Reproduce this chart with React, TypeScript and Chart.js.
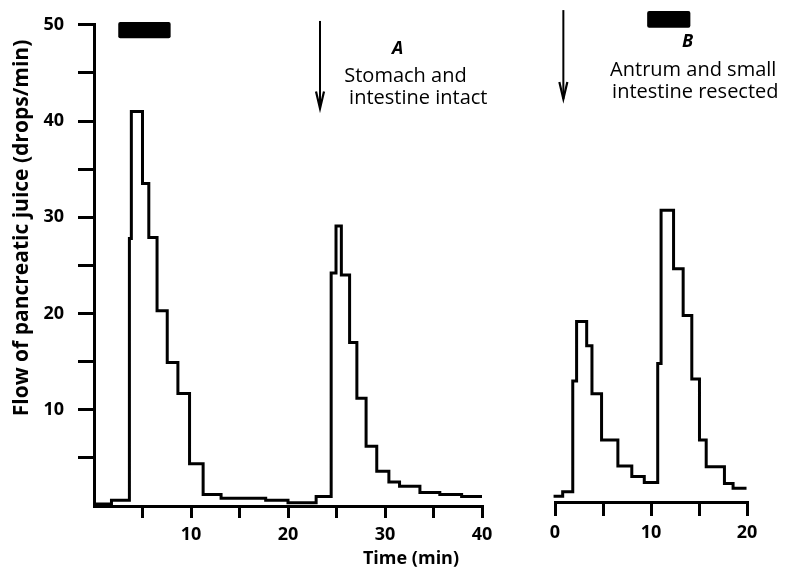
import React, { useEffect, useRef } from 'react';
import { Chart, registerables } from 'chart.js';

Chart.register(...registerables);

// ---- Data (time in min, flow in drops/min) ----
// Panel A: step edges (start of each interval) and values
const leftEdges = [0, 1.8, 3.65, 3.85, 5.0, 5.65, 6.5, 7.55, 8.65, 9.85, 11.25, 13.1, 17.7, 20.0, 22.9, 24.45, 24.95, 25.5, 26.35, 27.1, 28.05, 29.15, 30.4, 31.5, 33.6, 35.65, 37.9];
const leftValues = [0.2, 0.6, 27.8, 41, 33.5, 27.9, 20.3, 14.9, 11.7, 4.4, 1.2, 0.8, 0.6, 0.35, 1.0, 24.2, 29.1, 24.0, 17.0, 11.2, 6.2, 3.6, 2.5, 2.05, 1.4, 1.2, 1.0];
const leftEnd = 40;

// Panel B
const rightEdges = [-0.15, 0.8, 1.85, 2.25, 3.3, 3.85, 4.85, 6.55, 8.0, 9.3, 10.7, 11.05, 12.35, 13.35, 14.25, 15.05, 15.75, 17.65, 18.55];
const rightValues = [0.6, 1.05, 12.4, 18.5, 16.0, 11.1, 6.35, 3.7, 2.6, 2.0, 14.2, 29.9, 23.9, 19.1, 12.6, 6.35, 3.6, 1.9, 1.4];
const rightEnd = 19.95;

// Axis ticks
const yTickLabels = [10, 20, 30, 40, 50];
const leftXTickLabels = [10, 20, 30, 40];
const rightXTickLabels = [0, 10, 20];

// Annotations (data units)
const leftStimulus = [2.5, 7.9];
const rightStimulus = [9.6, 14.1];
const stimulusY = [48.6, 50.3];
const leftArrowX = 23.3;
const rightArrowX = 0.87;
const arrowY = [41.3, 50.4];
const labelA = ['A', 'Stomach and', 'intestine intact'];
const labelB = ['B', 'Antrum and small', 'intestine resected'];

const FONT = '"Open Sans", "DejaVu Sans", sans-serif';

function toPoints(edges: number[], values: number[], end: number) {
  const pts = edges.map((e, i) => ({ x: e, y: values[i] }));
  pts.push({ x: end, y: values[values.length - 1] });
  return pts;
}

type AnnCfg = {
  bar: number[];
  arrowX: number;
  letter: string;
  letterX: number;
  letterY: number;
  lines: string[];
  lineX: number[];
  lineY: number[];
  axisTitles?: boolean;
};

function makeAnnotator(cfg: AnnCfg) {
  return {
    id: 'annotator',
    afterDraw(chart: any) {
      const ctx = chart.ctx as CanvasRenderingContext2D;
      const xs = chart.scales.x;
      const ys = chart.scales.y;
      ctx.save();
      // stimulus bar
      const bx1 = xs.getPixelForValue(cfg.bar[0]);
      const bx2 = xs.getPixelForValue(cfg.bar[1]);
      const by1 = ys.getPixelForValue(stimulusY[1]);
      const by2 = ys.getPixelForValue(stimulusY[0]);
      ctx.fillStyle = '#000';
      ctx.beginPath();
      (ctx as any).roundRect(bx1, by1, bx2 - bx1, by2 - by1, 2);
      ctx.fill();
      // arrow
      const ax = xs.getPixelForValue(cfg.arrowX);
      const ayTop = ys.getPixelForValue(arrowY[1]);
      const ayTip = ys.getPixelForValue(arrowY[0]);
      ctx.strokeStyle = '#000';
      ctx.lineWidth = 2;
      ctx.beginPath();
      ctx.moveTo(ax, ayTop);
      ctx.lineTo(ax, ayTip);
      ctx.stroke();
      ctx.lineWidth = 2.2;
      ctx.beginPath();
      ctx.moveTo(ax - 4, ayTip - 17);
      ctx.lineTo(ax, ayTip);
      ctx.lineTo(ax + 4, ayTip - 17);
      ctx.stroke();
      // letter
      ctx.fillStyle = '#000';
      ctx.textBaseline = 'alphabetic';
      ctx.textAlign = 'center';
      ctx.font = `italic bold 18px ${FONT}`;
      ctx.fillText(cfg.letter, xs.getPixelForValue(cfg.letterX), ys.getPixelForValue(cfg.letterY));
      ctx.textAlign = 'left';
      ctx.font = `20px ${FONT}`;
      cfg.lines.forEach((t, i) => {
        ctx.fillText(t, xs.getPixelForValue(cfg.lineX[i]), ys.getPixelForValue(cfg.lineY[i]));
      });
      if (cfg.axisTitles) {
        // y-axis title
        ctx.save();
        ctx.translate(22, 228);
        ctx.rotate(-Math.PI / 2);
        ctx.textAlign = 'center';
        ctx.textBaseline = 'middle';
        ctx.font = `bold 21px ${FONT}`;
        ctx.fillText('Flow of pancreatic juice (drops/min)', 0, 0);
        ctx.restore();
        // x-axis title
        ctx.textAlign = 'center';
        ctx.textBaseline = 'middle';
        ctx.font = `bold 18px ${FONT}`;
        ctx.fillText('Time (min)', 411, 559);
      }
      ctx.restore();
    },
  };
}

function baseDataset(points: { x: number; y: number }[]) {
  return {
    data: points,
    borderColor: '#000',
    borderWidth: 3,
    pointRadius: 0,
    pointHoverRadius: 0,
    stepped: 'before' as const,
    fill: false,
    tension: 0,
    clip: false as any,
    borderJoinStyle: 'miter' as const,
  };
}

export default function App() {
  const leftRef = useRef<HTMLCanvasElement | null>(null);
  const rightRef = useRef<HTMLCanvasElement | null>(null);

  useEffect(() => {
    document.body.style.margin = '0';
    document.body.style.background = '#fff';
    const tickFont = { family: FONT, size: 18, weight: 'bold' as const };

    const left = new Chart(leftRef.current!, {
      type: 'line',
      data: { datasets: [baseDataset(toPoints(leftEdges, leftValues, leftEnd)) as any] },
      options: {
        animation: false,
        responsive: false,
        events: [],
        layout: { padding: { left: 0, top: 18, right: 304, bottom: 0 } },
        plugins: { legend: { display: false }, tooltip: { enabled: false } },
        scales: {
          x: {
            type: 'linear',
            min: 0,
            max: 40,
            border: { display: true, color: '#000', width: 3 },
            grid: {
              drawOnChartArea: false,
              drawTicks: true,
              tickLength: 12,
              lineWidth: 3,
              color: (c: any) => (c.tick && c.tick.value === 0 ? 'rgba(0,0,0,0)' : '#000'),
            },
            ticks: {
              stepSize: 5,
              autoSkip: false,
              maxRotation: 0,
              padding: 6,
              color: '#000',
              font: tickFont,
              callback: (v: any) => (leftXTickLabels.includes(Number(v)) ? String(v) : ''),
            },
            afterFit: (s: any) => { s.height = 67; },
          },
          y: {
            type: 'linear',
            min: 0,
            max: 50,
            border: { display: true, color: '#000', width: 3 },
            grid: {
              drawOnChartArea: false,
              drawTicks: true,
              tickLength: 16,
              lineWidth: 3,
              color: (c: any) => (c.tick && c.tick.value === 0 ? 'rgba(0,0,0,0)' : '#000'),
            },
            ticks: {
              stepSize: 5,
              autoSkip: false,
              padding: 14,
              color: '#000',
              font: tickFont,
              callback: (v: any) => (yTickLabels.includes(Number(v)) ? String(v) : ''),
            },
            afterFit: (s: any) => { s.width = 94; },
          },
        },
      },
      plugins: [
        makeAnnotator({
          bar: leftStimulus,
          arrowX: leftArrowX,
          letter: labelA[0],
          letterX: 31.3,
          letterY: 47.0,
          lines: labelA.slice(1),
          lineX: [25.8, 26.3],
          lineY: [44.1, 41.8],
          axisTitles: true,
        }),
      ],
    });

    const right = new Chart(rightRef.current!, {
      type: 'line',
      data: { datasets: [baseDataset(toPoints(rightEdges, rightValues, rightEnd)) as any] },
      options: {
        animation: false,
        responsive: false,
        events: [],
        layout: { padding: { left: 555, top: 14, right: 39, bottom: 0 } },
        plugins: { legend: { display: false }, tooltip: { enabled: false } },
        scales: {
          x: {
            type: 'linear',
            min: 0,
            max: 20,
            border: { display: true, color: '#000', width: 3 },
            grid: {
              drawOnChartArea: false,
              drawTicks: true,
              tickLength: 14,
              lineWidth: 3,
              color: '#000',
            },
            ticks: {
              stepSize: 5,
              autoSkip: false,
              maxRotation: 0,
              padding: 6,
              color: '#000',
              font: tickFont,
              callback: (v: any) => (rightXTickLabels.includes(Number(v)) ? String(v) : ''),
            },
            afterFit: (s: any) => { s.height = 71; },
          },
          y: {
            type: 'linear',
            min: 0,
            max: 50,
            display: false,
          },
        },
      },
      plugins: [
        makeAnnotator({
          bar: rightStimulus,
          arrowX: rightArrowX,
          letter: labelB[0],
          letterX: 13.8,
          letterY: 46.6,
          lines: labelB.slice(1),
          lineX: [5.74, 5.95],
          lineY: [43.6, 41.4],
        }),
      ],
    });

    return () => {
      left.destroy();
      right.destroy();
    };
  }, []);

  return (
    <div style={{ position: 'relative', width: 786, height: 573, background: '#fff' }}>
      <canvas ref={leftRef} width={786} height={573} style={{ position: 'absolute', left: 0, top: 0 }} />
      <canvas ref={rightRef} width={786} height={573} style={{ position: 'absolute', left: 0, top: 0 }} />
    </div>
  );
}
